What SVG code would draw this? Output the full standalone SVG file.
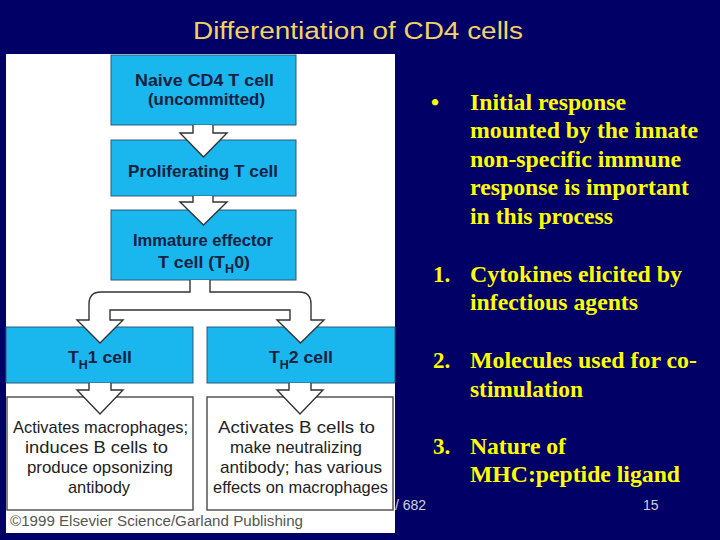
<svg xmlns="http://www.w3.org/2000/svg" width="720" height="540" viewBox="0 0 720 540">
<style>
.bg{fill:#000066}
.cell{fill:#1ab6ee;stroke:#2a5a78;stroke-width:1}
.desc{fill:#ffffff;stroke:#555;stroke-width:1.5}
.arrow{fill:#ffffff;stroke:#333;stroke-width:1.4;stroke-linejoin:miter}
.lbl{font-family:"Liberation Sans",Arial,sans-serif;font-weight:bold;font-size:17px;fill:#17213f}
.dtxt{font-family:"Liberation Sans",Arial,sans-serif;font-size:17px;fill:#222}
.side{font-family:"Liberation Serif","Times New Roman",serif;font-weight:bold;font-size:23px;fill:#ffff00}
.foot{font-family:"Liberation Sans",Arial,sans-serif;font-size:14px;fill:#d0d0e0}
</style>
<rect class="bg" x="0" y="0" width="720" height="540"/>
<text x="193" y="39" textLength="330" lengthAdjust="spacingAndGlyphs" style="font-family:'Liberation Sans',Arial,sans-serif;font-size:23px;fill:#f2d463">Differentiation of CD4 cells</text>
<rect x="6" y="54" width="389" height="479" fill="#ffffff"/>

<g id="naive">
<rect class="cell" x="111" y="55" width="185" height="70"/>
<text class="lbl" x="135" y="86" textLength="139" lengthAdjust="spacingAndGlyphs" style="font-size:16px">Naive CD4 T cell</text>
<text class="lbl" x="148" y="105" textLength="117" lengthAdjust="spacingAndGlyphs" style="font-size:16px">(uncommitted)</text>
</g>
<g id="proliferating">
<rect class="cell" x="111" y="140" width="185" height="56"/>
<text class="lbl" x="128" y="177" textLength="150" lengthAdjust="spacingAndGlyphs">Proliferating T cell</text>
</g>
<g id="immature">
<rect class="cell" x="111" y="210" width="185" height="70"/>
<text class="lbl" x="133" y="246" textLength="140" lengthAdjust="spacingAndGlyphs">Immature effector</text>
<text class="lbl" x="158" y="268" textLength="92" lengthAdjust="spacingAndGlyphs">T cell (T<tspan font-size="12" dy="5">H</tspan><tspan dy="-5">0)</tspan></text>
</g>
<g id="th1">
<rect class="cell" x="6" y="327" width="187" height="56"/>
<text class="lbl" x="68" y="363" textLength="64" lengthAdjust="spacingAndGlyphs">T<tspan font-size="12" dy="6">H</tspan><tspan dy="-6">1 cell</tspan></text>
</g>
<g id="th2">
<rect class="cell" x="207" y="327" width="188" height="56"/>
<text class="lbl" x="269" y="363" textLength="64" lengthAdjust="spacingAndGlyphs">T<tspan font-size="12" dy="6">H</tspan><tspan dy="-6">2 cell</tspan></text>
</g>
<g id="th1-effects">
<rect class="desc" x="7" y="397" width="186" height="113"/>
<text class="dtxt" x="13" y="433" textLength="175" lengthAdjust="spacingAndGlyphs">Activates macrophages;</text>
<text class="dtxt" x="25" y="453" textLength="143" lengthAdjust="spacingAndGlyphs">induces B cells to</text>
<text class="dtxt" x="27" y="473" textLength="146" lengthAdjust="spacingAndGlyphs">produce opsonizing</text>
<text class="dtxt" x="68" y="493" textLength="62" lengthAdjust="spacingAndGlyphs">antibody</text>
</g>
<g id="th2-effects">
<rect class="desc" x="207" y="397" width="186" height="113"/>
<text class="dtxt" x="218" y="433" textLength="157" lengthAdjust="spacingAndGlyphs">Activates B cells to</text>
<text class="dtxt" x="230" y="453" textLength="132" lengthAdjust="spacingAndGlyphs">make neutralizing</text>
<text class="dtxt" x="220" y="473" textLength="162" lengthAdjust="spacingAndGlyphs">antibody; has various</text>
<text class="dtxt" x="213" y="493" textLength="175" lengthAdjust="spacingAndGlyphs">effects on macrophages</text>
</g>

<g id="connectors">
<path class="arrow" d="M193,125 V133 H180 L203.5,157 L227,133 H213 V125"/>
<path class="arrow" d="M193,196 V202 H180 L203.5,225 L227,202 H213 V196"/>
<path class="arrow" d="M190,280 V292 H101 Q89,292 89,304 V320 H77 L100,343 L123,320 H110 V310 H290 V320 H277 L300.5,343 L324,320 H311 V304 Q311,292 299,292 H210 V280"/>
<path class="arrow" d="M89,383 V390 H77 L100,414 L123,390 H111 V383"/>
<path class="arrow" d="M289,383 V390 H277 L300,414 L323,390 H311 V383"/>
</g>

<text x="10" y="526" textLength="293" lengthAdjust="spacingAndGlyphs" style="font-family:'Liberation Sans',Arial,sans-serif;font-size:14px;fill:#555">©1999 Elsevier Science/Garland Publishing</text>

<g id="notes">
<text class="side" x="431" y="110">•</text>
<text class="side" x="470" y="110" textLength="156" lengthAdjust="spacingAndGlyphs">Initial response</text>
<text class="side" x="470" y="138" textLength="228" lengthAdjust="spacingAndGlyphs">mounted by the innate</text>
<text class="side" x="470" y="167" textLength="211" lengthAdjust="spacingAndGlyphs">non-specific immune</text>
<text class="side" x="470" y="195" textLength="219" lengthAdjust="spacingAndGlyphs">response is important</text>
<text class="side" x="470" y="224" textLength="143" lengthAdjust="spacingAndGlyphs">in this process</text>
<text class="side" x="433" y="282">1.</text>
<text class="side" x="470" y="282" textLength="212" lengthAdjust="spacingAndGlyphs">Cytokines elicited by</text>
<text class="side" x="470" y="310" textLength="168" lengthAdjust="spacingAndGlyphs">infectious agents</text>
<text class="side" x="433" y="368">2.</text>
<text class="side" x="470" y="368" textLength="227" lengthAdjust="spacingAndGlyphs">Molecules used for co-</text>
<text class="side" x="470" y="397" textLength="113" lengthAdjust="spacingAndGlyphs">stimulation</text>
<text class="side" x="433" y="454">3.</text>
<text class="side" x="470" y="454" textLength="96" lengthAdjust="spacingAndGlyphs">Nature of</text>
<text class="side" x="470" y="482" textLength="210" lengthAdjust="spacingAndGlyphs">MHC:peptide ligand</text>
</g>
<text class="foot" x="395" y="510">/ 682</text>
<text class="foot" x="643" y="510">15</text>
</svg>
